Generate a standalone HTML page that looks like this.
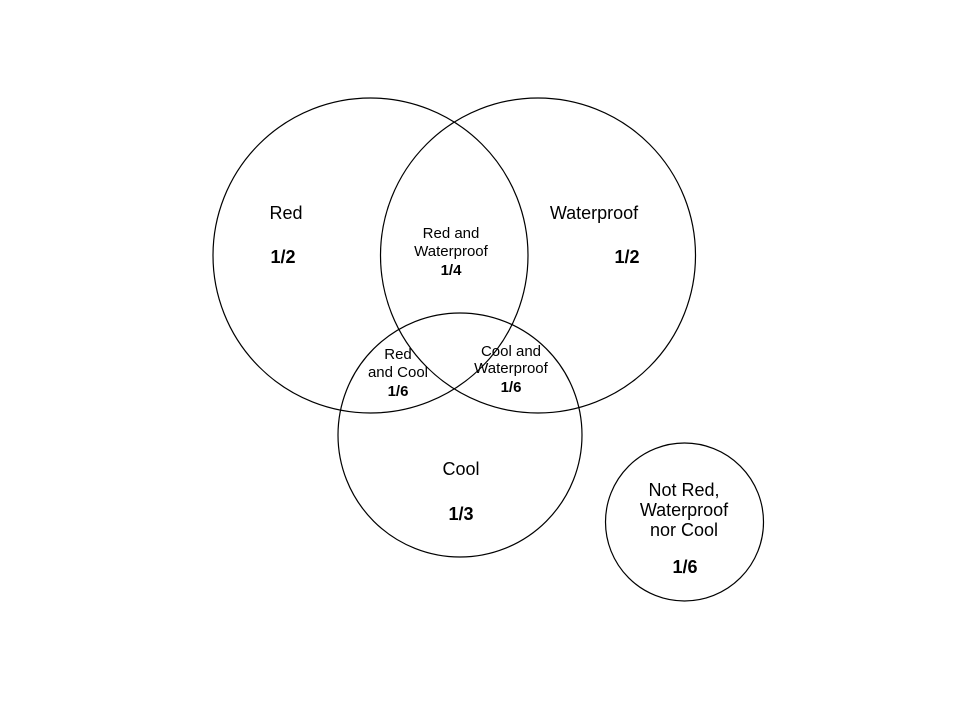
<!DOCTYPE html>
<html><head><style>body{margin:0;background:#fff}svg{display:block}</style></head>
<body>
<svg width="960" height="720" xmlns="http://www.w3.org/2000/svg" font-family="Liberation Sans, Arial, sans-serif" fill="#000">
<g fill="none" stroke="#000" stroke-width="1.2">
<circle cx="370.5" cy="255.5" r="157.5"/>
<circle cx="538" cy="255.5" r="157.5"/>
<circle cx="460" cy="435" r="122"/>
<circle cx="684.5" cy="522" r="79"/>
</g>
<g font-size="18" text-anchor="middle">
<text x="286" y="219">Red</text>
<text x="283" y="263" font-weight="bold">1/2</text>
<text x="594" y="219">Waterproof</text>
<text x="627" y="263" font-weight="bold">1/2</text>
<text x="461" y="475">Cool</text>
<text x="461" y="520" font-weight="bold">1/3</text>
<text x="684" y="496">Not Red,</text>
<text x="684" y="516">Waterproof</text>
<text x="684" y="536">nor Cool</text>
<text x="685" y="573" font-weight="bold">1/6</text>
</g>
<g font-size="15" text-anchor="middle">
<text x="451" y="238">Red and</text>
<text x="451" y="256">Waterproof</text>
<text x="451" y="275" font-weight="bold">1/4</text>
<text x="398" y="359">Red</text>
<text x="398" y="377">and Cool</text>
<text x="398" y="396" font-weight="bold">1/6</text>
<text x="511" y="356">Cool and</text>
<text x="511" y="373">Waterproof</text>
<text x="511" y="392" font-weight="bold">1/6</text>
</g>
</svg>
</body></html>
